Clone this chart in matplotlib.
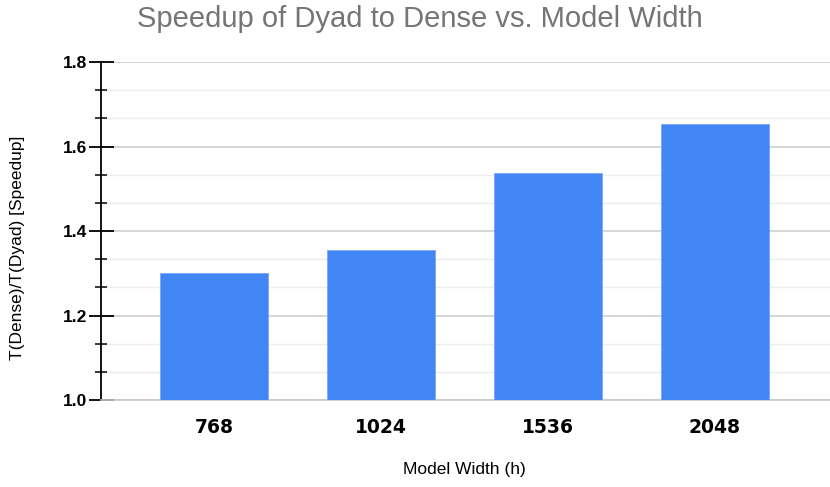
import matplotlib
matplotlib.use('Agg')
import matplotlib.pyplot as plt
import numpy as np

# data
widths = ['768', '1024', '1536', '2048']
speedup = [1.30, 1.355, 1.537, 1.653]

fig = plt.figure(figsize=(8.3, 4.87), dpi=100)
ax = fig.add_axes([0.1217, 0.1786, 0.8783, 0.6941])

x = np.arange(len(widths))
ax.bar(x, np.array(speedup) - 1.0, bottom=1.0, width=0.65, color='#4285f4',
       edgecolor='#7aa7f7', linewidth=0.6, zorder=3)

ax.set_xlim(-0.677, 3.689)
ax.set_ylim(1.0, 1.8)

# grid: major every 0.2, minor at thirds
major = [1.0, 1.2, 1.4, 1.6, 1.8]
minor = [m + k * 0.2 / 3 for m in major[:-1] for k in (1, 2)]
ax.set_yticks(major)
ax.set_yticks(minor, minor=True)
ax.set_yticklabels(['%.1f' % v for v in major], fontfamily='Liberation Sans',
                   fontweight='bold', fontsize=12.5)
ax.grid(axis='y', which='major', color='#d0d0d0', linewidth=1.2, zorder=0)
ax.grid(axis='y', which='minor', color='#ececec', linewidth=1.0, zorder=0)
ax.tick_params(axis='y', which='major', direction='inout', length=18, width=1.3,
               color='black', pad=1)
ax.tick_params(axis='y', which='minor', direction='inout', length=9, width=1.1,
               color='black')

ax.set_xticks(x)
ax.set_xticklabels(widths, fontfamily='DejaVu Sans', fontweight='bold', fontsize=13.5)
ax.tick_params(axis='x', length=0, pad=13)

for s in ['top', 'right']:
    ax.spines[s].set_visible(False)
ax.spines['left'].set_color('black')
ax.spines['left'].set_linewidth(1.3)
ax.spines['bottom'].set_color('#c8c8c8')
ax.spines['bottom'].set_linewidth(1.2)

fig.text(0.021, 0.491, 'T(Dense)/T(Dyad) [Speedup]', fontfamily='Liberation Sans',
         fontsize=12.5, rotation=90, ha='center', va='center')
fig.text(0.56, 0.02, 'Model Width (h)', fontfamily='Liberation Sans',
         fontsize=12.5, ha='center', va='bottom')
fig.text(0.506, 0.96, 'Speedup of Dyad to Dense vs. Model Width',
         fontfamily='Liberation Sans', fontsize=21, color='#757575',
         ha='center', va='center')

fig.savefig('out.png', dpi=100)
